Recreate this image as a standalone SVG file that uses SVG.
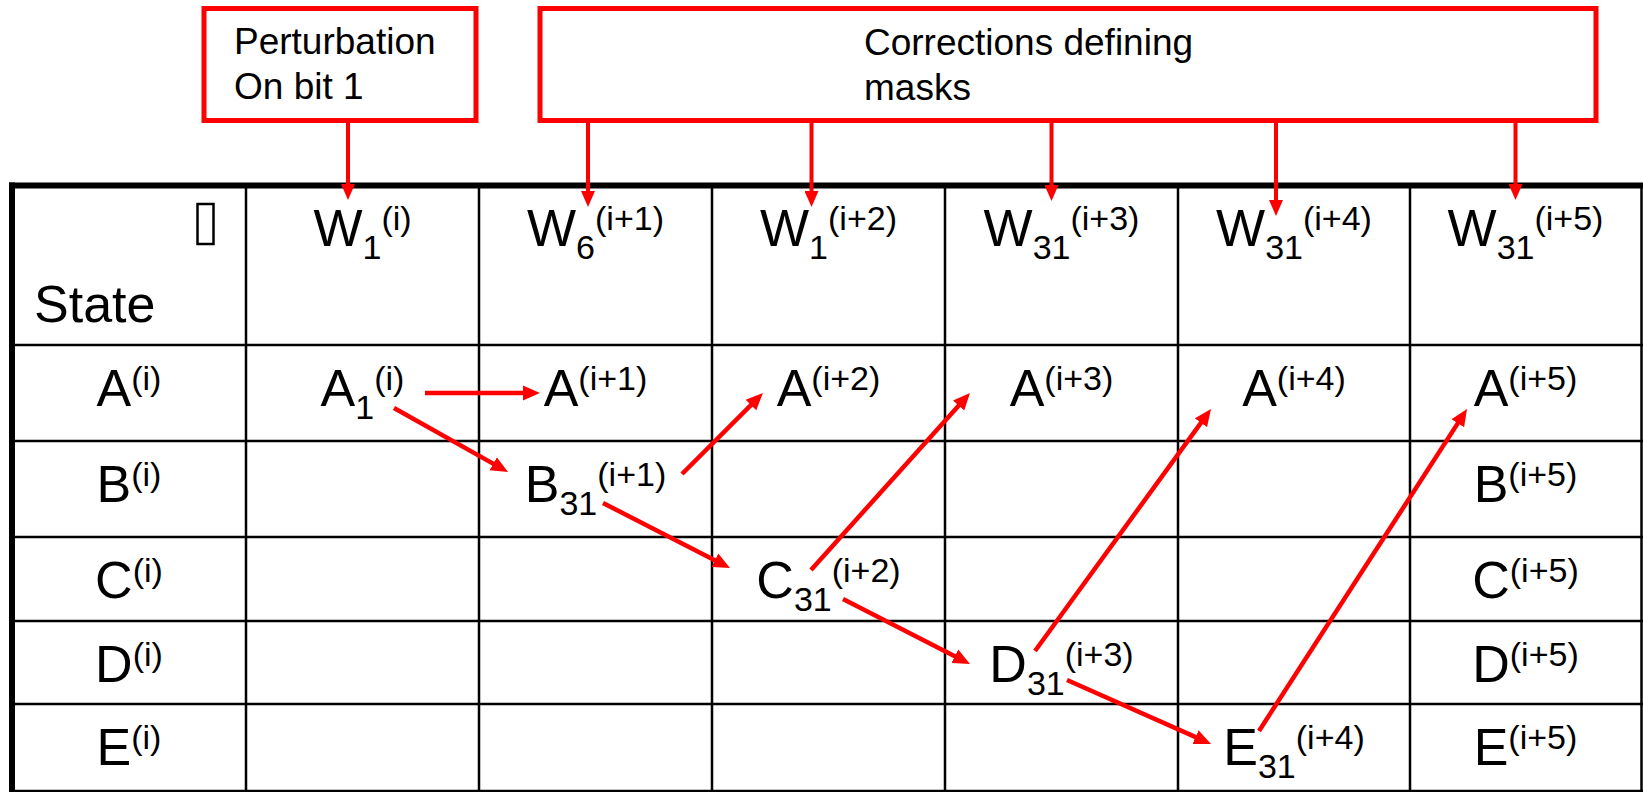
<svg xmlns="http://www.w3.org/2000/svg" width="1643" height="792" viewBox="0 0 1643 792">
<style>
text{font-family:"Liberation Sans",Arial,sans-serif;fill:#000}
.m{font-size:52px;text-anchor:middle}
.l{font-size:52px}
.s{font-size:34px}
.b{font-size:37px}
.box{fill:#fff;stroke:#ff0000;stroke-width:5}
.thin{stroke:#000;stroke-width:2.5;fill:none}
.thick{stroke:#000;stroke-width:6;fill:none}
.a{stroke:#ff0000;stroke-width:4.5;fill:none;marker-end:url(#ah)}
.av{stroke:#ff0000;stroke-width:4;fill:none;marker-end:url(#ah2)}
</style>
<defs>
<marker id="ah" markerUnits="userSpaceOnUse" markerWidth="18" markerHeight="16" refX="7" refY="7.5" orient="auto" viewBox="0 0 18 15">
<path d="M0,0 L17,7.5 L0,15 z" fill="#ff0000"/>
</marker>
<marker id="ah2" markerUnits="userSpaceOnUse" markerWidth="16" markerHeight="14" refX="6" refY="7" orient="auto" viewBox="0 0 16 14">
<path d="M0,0 L16,7 L0,14 z" fill="#ff0000"/>
</marker>
</defs>
<rect width="1643" height="792" fill="#fff"/>

<g id="table">
<line class="thin" x1="246" y1="185" x2="246" y2="792"/>
<line class="thin" x1="479" y1="185" x2="479" y2="792"/>
<line class="thin" x1="712" y1="185" x2="712" y2="792"/>
<line class="thin" x1="945" y1="185" x2="945" y2="792"/>
<line class="thin" x1="1178" y1="185" x2="1178" y2="792"/>
<line class="thin" x1="1410" y1="185" x2="1410" y2="792"/>
<line class="thin" x1="1641.5" y1="185" x2="1641.5" y2="792"/>
<line class="thin" x1="12" y1="345" x2="1643" y2="345"/>
<line class="thin" x1="12" y1="441" x2="1643" y2="441"/>
<line class="thin" x1="12" y1="537" x2="1643" y2="537"/>
<line class="thin" x1="12" y1="621" x2="1643" y2="621"/>
<line class="thin" x1="12" y1="704" x2="1643" y2="704"/>
<line class="thin" x1="12" y1="791" x2="1643" y2="791"/>
<line class="thick" x1="9" y1="185.5" x2="1643" y2="185.5"/>
<line class="thick" x1="12" y1="182.5" x2="12" y2="792"/>
</g>

<g id="perturbation">
<rect class="box" x="204" y="8.5" width="272" height="112"/>
<text class="b" x="234" y="54">Perturbation</text>
<text class="b" x="234" y="99">On bit 1</text>
</g>

<g id="corrections">
<rect class="box" x="540" y="8.5" width="1056" height="112"/>
<text class="b" x="864" y="55">Corrections defining</text>
<text class="b" x="864" y="100">masks</text>
</g>

<g id="header">
<rect x="197.5" y="204" width="16" height="40" fill="none" stroke="#000" stroke-width="2.5"/>
<text class="l" x="34" y="322">State</text>
<text class="m" x="362.5" y="246">W<tspan class="s" dy="12.5">1</tspan><tspan class="s" dy="-28.5">(i)</tspan></text>
<text class="m" x="595.5" y="246">W<tspan class="s" dy="12.5">6</tspan><tspan class="s" dy="-28.5">(i+1)</tspan></text>
<text class="m" x="828.5" y="246">W<tspan class="s" dy="12.5">1</tspan><tspan class="s" dy="-28.5">(i+2)</tspan></text>
<text class="m" x="1061.5" y="246">W<tspan class="s" dy="12.5">31</tspan><tspan class="s" dy="-28.5">(i+3)</tspan></text>
<text class="m" x="1294" y="246">W<tspan class="s" dy="12.5">31</tspan><tspan class="s" dy="-28.5">(i+4)</tspan></text>
<text class="m" x="1525.5" y="246">W<tspan class="s" dy="12.5">31</tspan><tspan class="s" dy="-28.5">(i+5)</tspan></text>
</g>

<g id="rowlabels">
<text class="m" x="129" y="406">A<tspan class="s" dy="-16">(i)</tspan></text>
<text class="m" x="129" y="502">B<tspan class="s" dy="-16">(i)</tspan></text>
<text class="m" x="129" y="598">C<tspan class="s" dy="-16">(i)</tspan></text>
<text class="m" x="129" y="682">D<tspan class="s" dy="-16">(i)</tspan></text>
<text class="m" x="129" y="765">E<tspan class="s" dy="-16">(i)</tspan></text>
</g>

<g id="A1"><text class="m" x="362.5" y="406">A<tspan class="s" dy="12.5">1</tspan><tspan class="s" dy="-28.5">(i)</tspan></text></g>
<g id="A_i1"><text class="m" x="595.5" y="406">A<tspan class="s" dy="-16">(i+1)</tspan></text></g>
<g id="A_i2"><text class="m" x="828.5" y="406">A<tspan class="s" dy="-16">(i+2)</tspan></text></g>
<g id="A_i3"><text class="m" x="1061.5" y="406">A<tspan class="s" dy="-16">(i+3)</tspan></text></g>
<g id="A_i4"><text class="m" x="1294" y="406">A<tspan class="s" dy="-16">(i+4)</tspan></text></g>
<g id="A_i5"><text class="m" x="1525.5" y="406">A<tspan class="s" dy="-16">(i+5)</tspan></text></g>
<g id="B31"><text class="m" x="595.5" y="502">B<tspan class="s" dy="12.5">31</tspan><tspan class="s" dy="-28.5">(i+1)</tspan></text></g>
<g id="C31"><text class="m" x="828.5" y="598">C<tspan class="s" dy="12.5">31</tspan><tspan class="s" dy="-28.5">(i+2)</tspan></text></g>
<g id="D31"><text class="m" x="1061.5" y="682">D<tspan class="s" dy="12.5">31</tspan><tspan class="s" dy="-28.5">(i+3)</tspan></text></g>
<g id="E31"><text class="m" x="1294" y="765">E<tspan class="s" dy="12.5">31</tspan><tspan class="s" dy="-28.5">(i+4)</tspan></text></g>
<g id="B_i5"><text class="m" x="1525.5" y="502">B<tspan class="s" dy="-16">(i+5)</tspan></text></g>
<g id="C_i5"><text class="m" x="1525.5" y="598">C<tspan class="s" dy="-16">(i+5)</tspan></text></g>
<g id="D_i5"><text class="m" x="1525.5" y="682">D<tspan class="s" dy="-16">(i+5)</tspan></text></g>
<g id="E_i5"><text class="m" x="1525.5" y="765">E<tspan class="s" dy="-16">(i+5)</tspan></text></g>

<g id="connectors">
<line class="av" x1="348" y1="123" x2="348" y2="190"/>
<line class="av" x1="588" y1="123" x2="588" y2="197"/>
<line class="av" x1="811.5" y1="123" x2="811.5" y2="197"/>
<line class="av" x1="1051.5" y1="123" x2="1051.5" y2="191"/>
<line class="av" x1="1276" y1="123" x2="1276" y2="206"/>
<line class="av" x1="1515.5" y1="123" x2="1515.5" y2="190"/>
<line class="a" x1="425" y1="393" x2="530" y2="393"/>
<line class="a" x1="394" y1="408" x2="499.3" y2="467.1"/>
<line class="a" x1="682" y1="474" x2="755.9" y2="400.1"/>
<line class="a" x1="603" y1="503" x2="721.1" y2="563.4"/>
<line class="a" x1="811" y1="570" x2="963.3" y2="400.4"/>
<line class="a" x1="843" y1="599" x2="961.1" y2="659.4"/>
<line class="a" x1="1035" y1="651" x2="1205.1" y2="417.1"/>
<line class="a" x1="1067" y1="680" x2="1201.9" y2="739.9"/>
<line class="a" x1="1259" y1="731" x2="1461.6" y2="417.4"/>
</g>
</svg>
